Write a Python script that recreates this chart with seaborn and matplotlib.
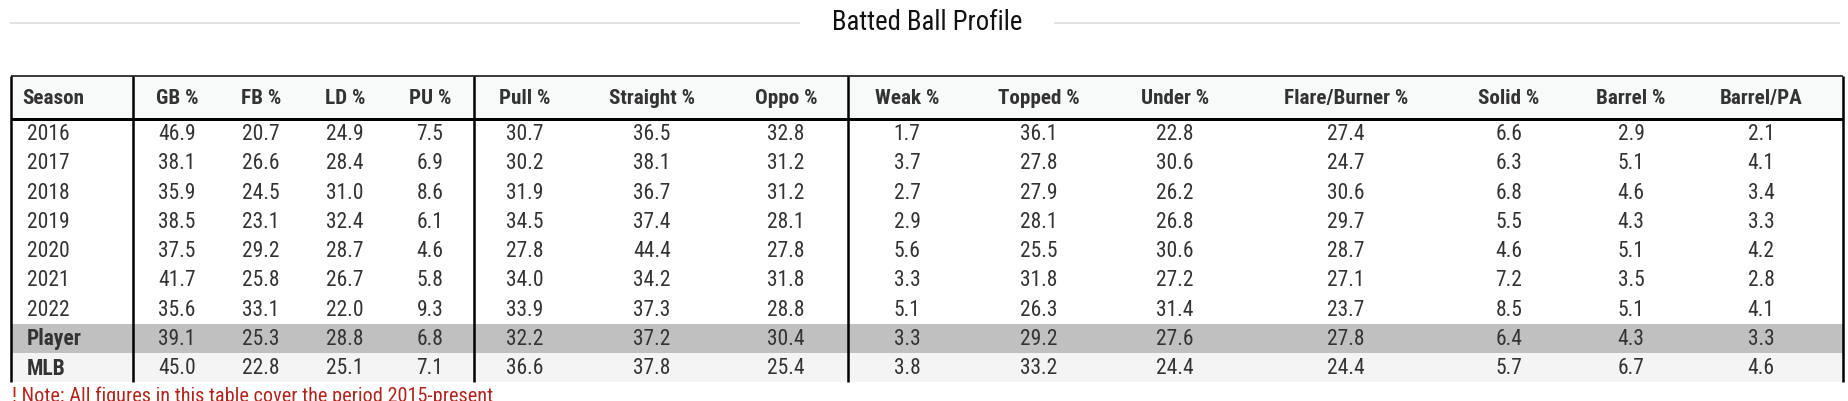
import matplotlib
matplotlib.use("Agg")
import matplotlib.pyplot as plt
import seaborn as sns
import pandas as pd

# Table data
seasons = ["2016", "2017", "2018", "2019", "2020", "2021", "2022", "Player", "MLB"]
gb = [46.9, 38.1, 35.9, 38.5, 37.5, 41.7, 35.6, 39.1, 45.0]
fb = [20.7, 26.6, 24.5, 23.1, 29.2, 25.8, 33.1, 25.3, 22.8]
ld = [24.9, 28.4, 31.0, 32.4, 28.7, 26.7, 22.0, 28.8, 25.1]
pu = [7.5, 6.9, 8.6, 6.1, 4.6, 5.8, 9.3, 6.8, 7.1]
pull = [30.7, 30.2, 31.9, 34.5, 27.8, 34.0, 33.9, 32.2, 36.6]
straight = [36.5, 38.1, 36.7, 37.4, 44.4, 34.2, 37.3, 37.2, 37.8]
oppo = [32.8, 31.2, 31.2, 28.1, 27.8, 31.8, 28.8, 30.4, 25.4]
weak = [1.7, 3.7, 2.7, 2.9, 5.6, 3.3, 5.1, 3.3, 3.8]
topped = [36.1, 27.8, 27.9, 28.1, 25.5, 31.8, 26.3, 29.2, 33.2]
under = [22.8, 30.6, 26.2, 26.8, 30.6, 27.2, 31.4, 27.6, 24.4]
flare = [27.4, 24.7, 30.6, 29.7, 28.7, 27.1, 23.7, 27.8, 24.4]
solid = [6.6, 6.3, 6.8, 5.5, 4.6, 7.2, 8.5, 6.4, 5.7]
barrel = [2.9, 5.1, 4.6, 4.3, 5.1, 3.5, 5.1, 4.3, 6.7]
barrel_pa = [2.1, 4.1, 3.4, 3.3, 4.2, 2.8, 4.1, 3.3, 4.6]

headers = ["Season", "GB %", "FB %", "LD %", "PU %", "Pull %", "Straight %", "Oppo %",
           "Weak %", "Topped %", "Under %", "Flare/Burner %", "Solid %", "Barrel %", "Barrel/PA"]
title = "Batted Ball Profile"
note = "! Note: All figures in this table cover the period 2015-present"

df = pd.DataFrame({"Season": seasons, "GB %": gb, "FB %": fb, "LD %": ld, "PU %": pu,
                   "Pull %": pull, "Straight %": straight, "Oppo %": oppo, "Weak %": weak,
                   "Topped %": topped, "Under %": under, "Flare/Burner %": flare,
                   "Solid %": solid, "Barrel %": barrel, "Barrel/PA": barrel_pa})

sns.set_theme(style="white")
plt.rcParams["font.family"] = ["Roboto Condensed", "DejaVu Sans"]

W, H = 1849, 401
fig = plt.figure(figsize=(W / 100, H / 100), dpi=100)
ax = fig.add_axes([0, 0, 1, 1])
ax.set_xlim(0, W)
ax.set_ylim(H, 0)
ax.axis("off")

def lw(px):
    return px * 72 / 100

# layout in pixels
left, right = 11, 1843
top, head_bot = 76, 119
row_h = 29.25
bottom = head_bot + row_h * len(df)
col_x = [22, 177, 261, 345, 430, 525, 652, 786, 907, 1039, 1175, 1346, 1509, 1631, 1761]
dividers = [133, 474, 848]
txt = "#333333"

# title with side rules
ax.text(927, 23, title, ha="center", va="center", fontsize=19.3, color="#111111")
ax.hlines(23, 10, 800, color="#d9d9d9", lw=lw(1.5))
ax.hlines(23, 1054, 1840, color="#d9d9d9", lw=lw(1.5))

# header background and row bands
ax.barh((top + head_bot) / 2, right - left, height=head_bot - top, left=left,
        color="#f8f9f9", edgecolor="none")
band_colors = ["white"] * (len(df) - 2) + ["#c0c0c0", "#f4f4f4"]
row_y = [head_bot + row_h * (i + 0.5) for i in range(len(df))]
ax.barh(row_y, right - left, height=row_h, left=left, color=band_colors, edgecolor="none")

# header text
for j, h in enumerate(headers):
    ax.text(col_x[j], (top + head_bot) / 2 + 1, h, ha="left" if j == 0 else "center",
            va="center", fontsize=15.2, fontweight="bold", color=txt)

# body text
for i, row in df.iterrows():
    y = row_y[i] + 1
    bold = row["Season"] in ("Player", "MLB")
    ax.text(27, y, row["Season"], ha="left", va="center", fontsize=15.5,
            fontweight="bold" if bold else "normal", color=txt)
    for j, h in enumerate(headers[1:], start=1):
        ax.text(col_x[j], y, f"{row[h]:.1f}", ha="center", va="center",
                fontsize=15.5, color=txt)

# borders
ax.hlines(top, left, right, color="black", lw=lw(1.5))
ax.hlines(head_bot, left, right, color="black", lw=lw(3))
ax.vlines([left, right], top, bottom, color="black", lw=lw(2.5))
ax.vlines(dividers, top, bottom, color="black", lw=lw(2.5))

# footnote, clipped by the bottom edge as in the source
ax.text(12, 386, note, ha="left", va="top", fontsize=14.6, color="#b5241c")

plt.savefig("out.png", dpi=100)
plt.close()
